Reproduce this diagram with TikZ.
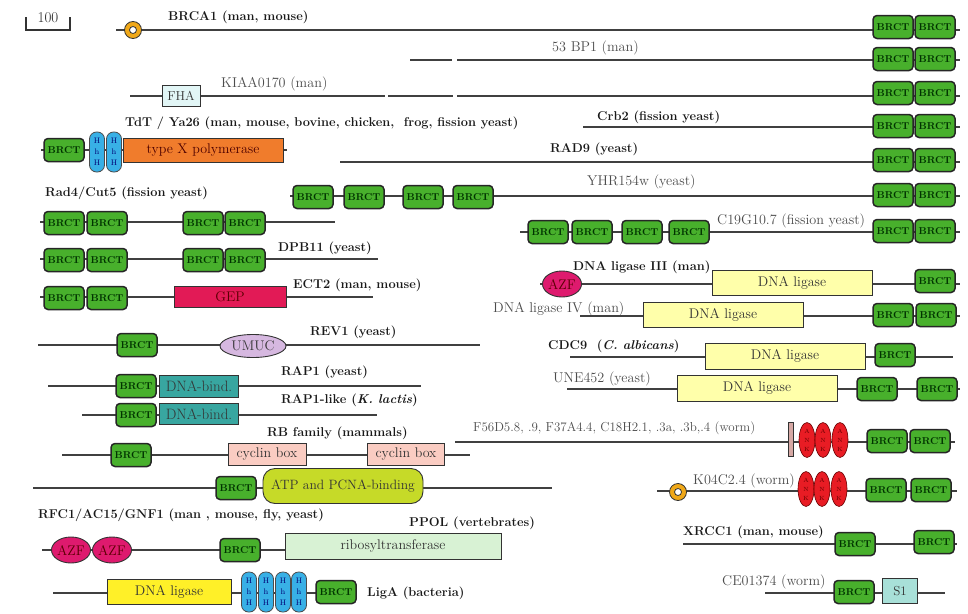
\documentclass[tikz,border=0pt]{standalone}
\usepackage{tikz}
\usetikzlibrary{shapes.geometric}
\definecolor{brctgreen}{RGB}{72,176,44}
\definecolor{hhhblue}{RGB}{56,176,230}
\definecolor{polorange}{RGB}{240,124,44}
\definecolor{gepred}{RGB}{226,26,86}
\definecolor{umuclilac}{RGB}{214,184,224}
\definecolor{bindteal}{RGB}{56,166,160}
\definecolor{cyclinpink}{RGB}{250,204,194}
\definecolor{atplime}{RGB}{198,218,40}
\definecolor{azfpink}{RGB}{222,26,110}
\definecolor{ribogreen}{RGB}{216,242,212}
\definecolor{ligyellow}{RGB}{255,255,170}
\definecolor{ligabright}{RGB}{255,240,40}
\definecolor{ankred}{RGB}{232,28,36}
\definecolor{fhacyan}{RGB}{226,246,246}
\definecolor{sonecyan}{RGB}{168,224,216}
\definecolor{ringorange}{RGB}{240,168,24}
\definecolor{barpink}{RGB}{214,168,164}
\tikzset{
  prot/.style={line width=1.1pt, black!75},
  brct/.style={draw=black!85, line width=1.5pt, fill=brctgreen, rounded corners=4pt,
    minimum width=40pt, minimum height=23pt, inner sep=0pt,
    text=green!20!black, font=\fontsize{10}{10}\selectfont\bfseries},
  dom/.style={draw=black!80, line width=0.9pt, inner sep=0pt, text=black!80,
    font=\fontsize{14}{14}\selectfont},
  hhh/.style={draw=black!70, line width=0.8pt, fill=hhhblue, rounded corners=7pt,
    minimum width=15pt, minimum height=40pt, inner sep=0pt, align=center,
    text=blue!45!black, font=\fontsize{8}{11}\selectfont},
  ank/.style={ellipse, draw=red!40!black, line width=0.6pt, fill=ankred,
    minimum width=16pt, minimum height=35pt, inner sep=0pt, align=center,
    text=red!40!black, font=\fontsize{6}{9}\selectfont},
  azf/.style={ellipse, draw=black!80, line width=0.9pt, fill=azfpink,
    minimum width=39pt, minimum height=26pt, inner sep=0pt,
    text=red!35!black, font=\fontsize{14}{14}\selectfont},
  ring/.style={circle, draw=black!80, line width=0.8pt, fill=ringorange, minimum size=17pt,
    inner sep=0pt, path picture={\filldraw[fill=white, draw=black!80]
    (path picture bounding box.center) circle (3.5pt);}},
  lab/.style={anchor=west, inner sep=0pt, text=black!90,
    font=\fontsize{12.8}{14}\selectfont\bfseries},
  labn/.style={anchor=west, inner sep=0pt, text=black!70,
    font=\fontsize{14.2}{15}\selectfont},
}
\begin{document}
\begin{tikzpicture}[x=1pt,y=-1pt]
\useasboundingbox (0,0) rectangle (968,613);

\coordinate (barL) at (26,17);
\coordinate (barR) at (70,17);
\draw[line width=1.4pt, black!80] (barL) -- ++(0,13) -| (barR);
\node[labn, anchor=center, text=black!85, font=\fontsize{15}{15}\selectfont] (barlab) at (48,18) {100};

\foreach \n/\a/\b/\y in {brca/116/960/30, bpa/410/452/60, bpb/457/960/60,
    kiaa/130/385/96, kiab/388/453/96, kiac/457/960/96, tdt/41/287/150,
    crb/583/960/127, rad/340/960/162, yhr/290/960/196, cut/40/335/222,
    cig/520/960/232, dpb/40/378/259, ect/40/373/297, ligiii/540/960/284,
    ligiv/580/960/316, cdc/570/953/357, une/567/960/389, fsix/455/955/442,
    rev/38/480/345, rap/48/421/386, rapl/82/377/415, rb/62/470/455,
    rfc/33/552/488, ppol/42/501/550, liga/53/357/593, kzero/657/957/491,
    xrcc/683/957/544, ce/765/945/593}{
  \coordinate (\n L) at (\a,\y);
  \coordinate (\n R) at (\b,\y);
  \draw[prot] (\n L) -- (\n R);
}

\foreach \y [count=\i] in {27,59,93,126,160,195,231}{
  \node[brct] (ra\i) at (893,\y) {BRCT};
  \node[brct] (rb\i) at (935,\y) {BRCT};
}

\node[ring] (brcaring) at (133,30) {};
\node[lab] (brcalab) at (168,17) {BRCA1 (man, mouse)};
\node[labn] (bplab) at (552,48) {53 BP1 (man)};
\node[dom, fill=fhacyan, minimum width=38pt, minimum height=21pt, font=\fontsize{13}{13}\selectfont] (fha) at (181,96) {FHA};
\node[labn] (kialab) at (221,84) {KIAA0170 (man)};

\node[brct] (tdtbrct) at (64,150) {BRCT};
\node[hhh] (tdth1) at (97,152) {H\\h\\H};
\node[hhh] (tdth2) at (114,152) {H\\h\\H};
\node[dom, fill=polorange, minimum width=160pt, minimum height=24pt, text=red!30!black] (tdtpol) at (203,150) {type X polymerase};
\node[lab] (tdtlab) at (125,123) {TdT / Ya26 (man, mouse, bovine, chicken,~ frog, fission yeast)};

\node[lab] (crblab) at (597,117) {Crb2 (fission yeast)};
\node[lab] (radlab) at (550,149) {RAD9 (yeast)};

\foreach \x [count=\i] in {313,364,423,473}
  \node[brct] (yhr\i) at (\x,197) {BRCT};
\node[labn] (yhrlab) at (587,182) {YHR154w (yeast)};

\foreach \y/\n in {223/cut,260/dpb}{
  \node[brct] (\n1) at (64,\y) {BRCT};
  \node[brct] (\n2) at (107,\y) {BRCT};
  \node[brct] (\n3) at (203,\y) {BRCT};
  \node[brct] (\n4) at (245,\y) {BRCT};
}
\node[lab] (cutlab) at (45,193) {Rad4/Cut5 (fission yeast)};
\node[lab] (dpblab) at (278,248) {DPB11 (yeast)};

\foreach \x [count=\i] in {548,592,642,689}
  \node[brct] (cig\i) at (\x,232) {BRCT};
\node[labn] (ciglab) at (717,221) {C19G10.7 (fission yeast)};

\node[brct] (ect1) at (64,298) {BRCT};
\node[brct] (ect2) at (107,298) {BRCT};
\node[dom, fill=gepred, minimum width=112pt, minimum height=21pt, text=red!35!black] (gep) at (230,297) {GEP};
\node[lab] (ectlab) at (293,285) {ECT2 (man, mouse)};

\node[azf] (ligiiiazf) at (562,284) {AZF};
\node[dom, fill=ligyellow, minimum width=160pt, minimum height=25pt] (ligiiidom) at (792,283) {DNA ligase};
\node[brct] (ligiiibrct) at (935,281) {BRCT};
\node[lab] (ligiiilab) at (573,267) {DNA ligase III (man)};

\node[dom, fill=ligyellow, minimum width=160pt, minimum height=25pt] (ligivdom) at (723,315) {DNA ligase};
\node[brct] (ligiv1) at (893,315) {BRCT};
\node[brct] (ligiv2) at (936,315) {BRCT};
\node[labn] (ligivlab) at (493,309) {DNA ligase IV (man)};

\node[dom, fill=ligyellow, minimum width=160pt, minimum height=26pt] (cdcdom) at (785,356) {DNA ligase};
\node[brct] (cdcbrct) at (895,355) {BRCT};
\node[lab] (cdclab) at (548,346) {CDC9~ (\textit{C. albicans})};

\node[dom, fill=ligyellow, minimum width=160pt, minimum height=26pt] (unedom) at (757,388) {DNA ligase};
\node[brct] (une1) at (877,389) {BRCT};
\node[brct] (une2) at (937,389) {BRCT};
\node[labn] (unelab) at (553,379) {UNE452 (yeast)};

\node[dom, fill=barpink, line width=0.6pt, minimum width=5pt, minimum height=34pt] (fsixbar) at (791,439) {};
\foreach \x [count=\i] in {807,823,840}
  \node[ank] (fsixank\i) at (\x,440) {A\\N\\K};
\node[brct] (fsix1) at (887,441) {BRCT};
\node[brct] (fsix2) at (930,441) {BRCT};
\node[labn, font=\fontsize{13}{13}\selectfont] (fsixlab) at (473,428) {F56D5.8, .9, F37A4.4, C18H2.1, .3a, .3b,.4 (worm)};

\node[brct] (revbrct) at (137,345) {BRCT};
\node[dom, ellipse, fill=umuclilac, minimum width=66pt, minimum height=23pt] (umuc) at (253,346) {UMUC};
\node[lab] (revlab) at (310,332) {REV1 (yeast)};

\node[brct] (rapbrct) at (136,386) {BRCT};
\node[dom, fill=bindteal, minimum width=79pt, minimum height=22pt, font=\fontsize{15}{15}\selectfont] (rapbind) at (199,386) {DNA-bind.};
\node[lab] (raplab) at (281,372) {RAP1 (yeast)};
\node[brct] (raplbrct) at (136,415) {BRCT};
\node[dom, fill=bindteal, minimum width=79pt, minimum height=21pt, font=\fontsize{15}{15}\selectfont] (raplbind) at (199,414) {DNA-bind.};
\node[lab] (rapllab) at (281,400) {RAP1-like (\textit{K. lactis})};

\node[brct] (rbbrct) at (131,455) {BRCT};
\node[dom, fill=cyclinpink, minimum width=78pt, minimum height=22pt] (rbcyc1) at (267,454) {cyclin box};
\node[dom, fill=cyclinpink, minimum width=77pt, minimum height=22pt] (rbcyc2) at (406,454) {cyclin box};
\node[lab] (rblab) at (267,433) {RB family (mammals)};

\node[brct] (rfcbrct) at (236,488) {BRCT};
\node[dom, fill=atplime, rounded corners=12pt, minimum width=160pt, minimum height=35pt, font=\fontsize{13.5}{14}\selectfont] (rfcatp) at (343,486) {ATP and PCNA-binding};
\node[lab] (rfclab) at (38,515) {RFC1/AC15/GNF1 (man , mouse, fly, yeast)};

\node[azf] (ppolazf1) at (71,550) {AZF};
\node[azf] (ppolazf2) at (112,550) {AZF};
\node[brct] (ppolbrct) at (240,550) {BRCT};
\node[dom, fill=ribogreen, minimum width=216pt, minimum height=26pt] (ppolribo) at (393,546) {ribosyltransferase};
\node[lab] (ppollab) at (409,523) {PPOL (vertebrates)};

\node[dom, fill=ligabright, minimum width=124pt, minimum height=25pt] (ligadom) at (169,592) {DNA ligase};
\foreach \x [count=\i] in {249,266,283,299}
  \node[hhh] (ligah\i) at (\x,592) {H\\h\\H};
\node[brct] (ligabrct) at (336,592) {BRCT};
\node[lab] (ligalab) at (367,593) {LigA (bacteria)};

\node[ring] (kzeroring) at (678,492) {};
\foreach \x [count=\i] in {806,822,839}
  \node[ank] (kzeroank\i) at (\x,489) {A\\N\\K};
\node[brct] (kzero1) at (886,490) {BRCT};
\node[brct] (kzero2) at (931,490) {BRCT};
\node[labn] (kzerolab) at (693,481) {K04C2.4 (worm)};

\node[brct] (xrcc1) at (855,544) {BRCT};
\node[brct] (xrcc2) at (934,542) {BRCT};
\node[lab] (xrcclab) at (683,532) {XRCC1 (man, mouse)};

\node[brct] (cebrct) at (854,592) {BRCT};
\node[dom, fill=sonecyan, minimum width=35pt, minimum height=25pt, font=\fontsize{13}{13}\selectfont] (ces1) at (900,591) {S1};
\node[labn] (celab) at (722,582) {CE01374 (worm)};
\end{tikzpicture}
\end{document}
